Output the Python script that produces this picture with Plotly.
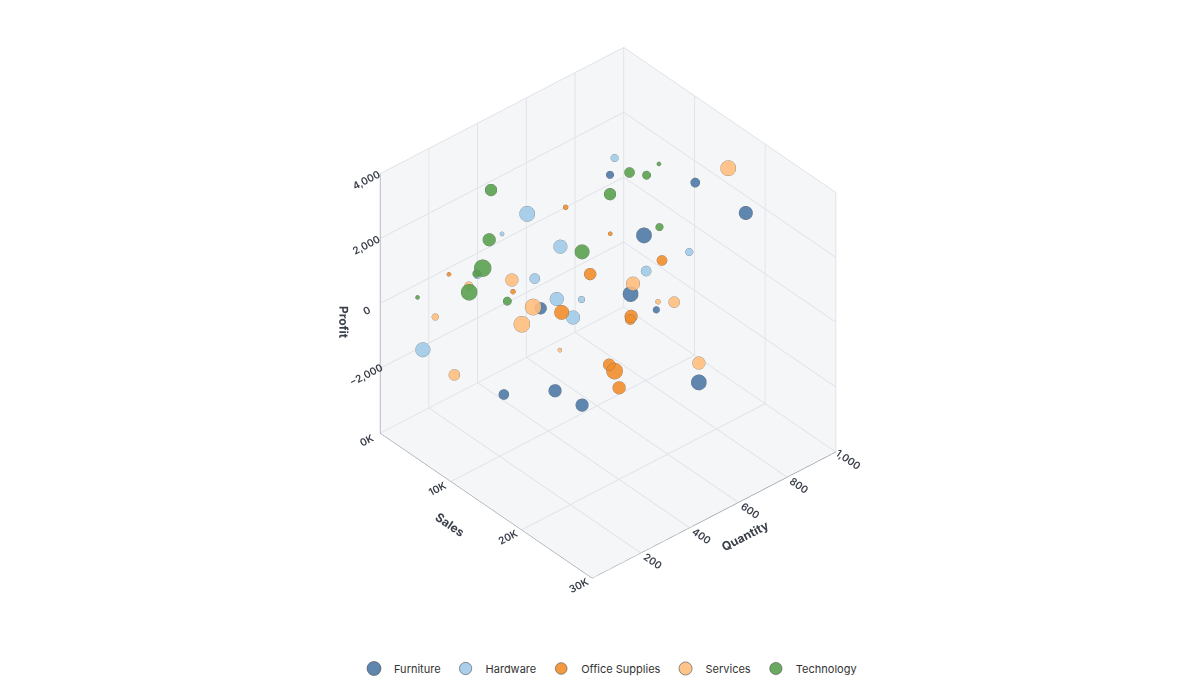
import plotly.graph_objects as go

categories = ["Furniture", "Hardware", "Office Supplies", "Services", "Technology"]
colors = ["#4e79a7", "#a0cbe8", "#f28e2b", "#ffbe7d", "#59a14f"]

furniture_sales = [9000, 12000, 18000, 15000, 21000, 24000, 9000, 15000, 18000, 24000, 27000]
furniture_qty = [682, 945, 978, 647, 418, 437, 397, 72, 195, 132, 524]
furniture_profit = [2655, 1840, 1673, 1825, 1801, 1683, -347, -846, -760, -63, -440]
furniture_size = [9, 11, 16, 18, 18, 8, 14, 12, 15, 15, 18]

hardware_sales = [6000, 3000, 6000, 12000, 21000, 18000, 9000, 3000, 15000, 18000, 21000, 4500]
hardware_qty = [788, 516, 326, 391, 659, 569, 373, 312, 289, 304, 182, 44]
hardware_profit = [2314, 1209, 1772, 2024, 2154, 1473, 662, 128, 1256, 1624, 1997, -919]
hardware_size = [9, 18, 5, 16, 9, 12, 12, 10, 16, 8, 16, 17]

office_sales = [6000, 12000, 21000, 15000, 3000, 9000, 15000, 24000, 18000, 21000, 27000, 24000]
office_qty = [587, 596, 547, 426, 195, 284, 309, 333, 504, 330, 178, 284]
office_profit = [1576, 1621, 2332, 1490, 590, 605, 766, 1890, 231, -36, 1256, -121]
office_size = [6, 5, 12, 14, 5, 6, 17, 15, 12, 14, 19, 15]

services_sales = [18000, 6000, 4500, 15000, 21000, 27000, 12000, 9000, 3000, 18000, 9000, 27000]
services_qty = [906, 366, 233, 602, 531, 423, 279, 320, 139, 215, 43, 524]
services_profit = [3333, 200, 310, 511, 1117, 2424, 601, -536, -507, 411, -1022, 155]
services_size = [18, 15, 10, 16, 6, 13, 19, 19, 8, 5, 13, 15]

tech_sales = [9000, 9000, 12000, 1500, 9000, 15000, 3000, 12000, 6000, 3000, 7500, 10500, 1500]
tech_qty = [762, 883, 745, 411, 682, 711, 360, 480, 246, 308, 147, 217, 110]
tech_profit = [2418, 2207, 2847, 2127, 2062, 1825, 1016, 1519, 1034, 170, 901, 796, -15]
tech_size = [12, 5, 10, 14, 14, 9, 15, 17, 20, 9, 19, 10, 5]

series = [
    (furniture_sales, furniture_qty, furniture_profit, furniture_size),
    (hardware_sales, hardware_qty, hardware_profit, hardware_size),
    (office_sales, office_qty, office_profit, office_size),
    (services_sales, services_qty, services_profit, services_size),
    (tech_sales, tech_qty, tech_profit, tech_size),
]

fig = go.Figure()
for name, color, (s, q, p, sz) in zip(categories, colors, series):
    fig.add_trace(go.Scatter3d(
        x=s, y=q, z=p, mode="markers", name=name,
        marker=dict(size=sz, color=color, opacity=0.9,
                    line=dict(color="rgba(60,60,60,0.6)", width=1)),
        hovertemplate=name + "<br>Sales %{x}<br>Quantity %{y}<br>Profit %{z}<extra></extra>",
    ))

axis_common = dict(
    showbackground=True, backgroundcolor="#f5f6f8",
    gridcolor="#dfe2e7", showline=True, linecolor="#7a7f8c",
    zeroline=False, tickfont=dict(size=11, color="#3a3f4a", weight=600),
    title_font=dict(size=12, color="#3a3f4a"),
)

fig.update_layout(
    width=1200, height=680,
    paper_bgcolor="white",
    font=dict(family="Inter, sans-serif", color="#333"),
    margin=dict(l=0, r=0, t=0, b=34),
    scene=dict(
        domain=dict(x=[0, 1], y=[0, 1]),
        xaxis=dict(axis_common, title=dict(text="<b>Sales</b>"), range=[0, 30000],
                   tickvals=[0, 10000, 20000, 30000], ticktext=["0K", "10K", "20K", "30K"]),
        yaxis=dict(axis_common, title=dict(text="<b>Quantity</b>"), range=[0, 1000],
                   tickvals=[200, 400, 600, 800, 1000], tickformat=","),
        zaxis=dict(axis_common, title=dict(text="<b>Profit</b>"), range=[-4000, 4000],
                   tickvals=[-2000, 0, 2000, 4000], tickformat=","),
        aspectmode="cube",
        camera=dict(projection=dict(type="orthographic"),
                    eye=dict(x=1.16, y=-1.01, z=1.07), up=dict(x=0, y=0, z=1),
                    center=dict(x=0, y=0, z=-0.07)),
    ),
    legend=dict(orientation="h", x=0.5, xanchor="center", y=0.0, yanchor="top",
                font=dict(size=11, color="#333")),
)

fig.write_html("out.html")
